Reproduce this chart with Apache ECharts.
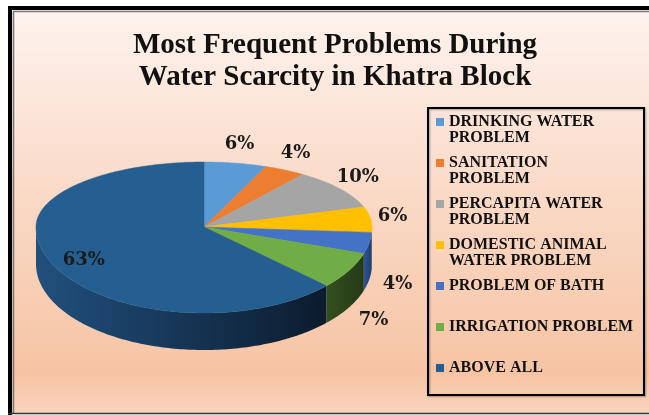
<!DOCTYPE html>
<html>
<head>
<meta charset="utf-8">
<title>Most Frequent Problems During Water Scarcity in Khatra Block</title>
<script src="https://cdn.jsdelivr.net/npm/echarts@6/dist/echarts.min.js"></script>
<style>
html, body { margin: 0; padding: 0; background: #fff; }
#chart { width: 649px; height: 415px; }
</style>
</head>
<body>
<div id="chart"></div>
<script>
// data
var categories = ['DRINKING WATER PROBLEM', 'SANITATION PROBLEM', 'PERCAPITA WATER PROBLEM',
  'DOMESTIC ANIMAL WATER PROBLEM', 'PROBLEM OF BATH', 'IRRIGATION PROBLEM', 'ABOVE ALL'];
var legendText = ['DRINKING WATER\nPROBLEM', 'SANITATION\nPROBLEM', 'PERCAPITA WATER\nPROBLEM',
  'DOMESTIC ANIMAL\nWATER PROBLEM', 'PROBLEM OF BATH', 'IRRIGATION PROBLEM', 'ABOVE ALL'];
var values = [6, 4, 10, 6, 4, 7, 63];

// styles
var colors = ['#5b9bd5', '#ed7d31', '#a5a5a5', '#ffc000', '#4472c4', '#70ad47', '#255e91'];
var sideColors = [['#3d6f9c', '#2f5a82'], ['#a8521c', '#8a4215'], ['#6e6e6e', '#5a5a5a'],
  ['#b38600', '#946f00'], ['#2f5597', '#203d6e'], ['#33501f', '#243a17'], ['#21507e', '#0c1b2d']];

var total = values.reduce(function (a, b) { return a + b; }, 0);
var starts = [];
values.reduce(function (acc, v, i) { starts[i] = acc; return acc + v; }, 0);

// 3d pie geometry (ellipse, front half a bit taller for perspective)
var cx = 204, cy = 227, rx = 168, ryTop = 65, ryFront = 86, depth = 37;

function pt(deg, off) {
  var r = deg * Math.PI / 180, c = Math.cos(r);
  return [cx + rx * Math.sin(r), cy - (c > 0 ? ryTop : ryFront) * c + (off || 0)];
}
function arc(a, b, off) {
  var p = [], n = Math.max(2, Math.ceil(Math.abs(b - a)));
  for (var k = 0; k <= n; k++) p.push(pt(a + (b - a) * k / n, off));
  return p;
}

function renderSlice(params, api) {
  var i = params.seriesIndex;
  var a0 = api.value(0) / total * 360;
  var a1 = (api.value(0) + api.value(1)) / total * 360;
  var children = [];
  // visible side wall (front half only)
  var s = Math.max(a0, 90), e = Math.min(a1, 270);
  if (e > s) {
    children.push({
      type: 'polygon', z2: 1,
      shape: { points: arc(s, e, 0).concat(arc(e, s, depth)) },
      style: { fill: new echarts.graphic.LinearGradient(0, 0, 1, 0, [
        { offset: 0, color: sideColors[i][0] }, { offset: 1, color: sideColors[i][1] }]) }
    });
  }
  // top face
  children.push({
    type: 'polygon', z2: 10,
    shape: { points: [[cx, cy]].concat(arc(a0, a1, 0)) },
    style: { fill: api.visual('color'), stroke: api.visual('color'), lineWidth: 0.5 }
  });
  // percentage label
  var m = (a0 + a1) / 2 * Math.PI / 180, sn = Math.sin(m), cs = Math.cos(m), lx, ly;
  if (api.value(1) / total > 0.5) {
    lx = cx + 0.78 * rx * sn; ly = cy - 0.97 * (cs > 0 ? ryTop : ryFront) * cs;
  } else if (cs >= 0) {
    lx = cx + 190 * sn; ly = cy - 84 * cs;
  } else {
    lx = cx + 197 * sn; ly = cy - 110 * cs + depth;
  }
  children.push({
    type: 'text', z2: 20,
    style: {
      text: Math.round(api.value(1) / total * 100) + '%', x: lx, y: ly,
      align: 'center', verticalAlign: 'middle',
      fontFamily: 'DejaVu Serif', fontWeight: 'bold', fontSize: 18, fill: '#1a1a1a'
    }
  });
  return { type: 'group', children: children };
}

var chart = echarts.init(document.getElementById('chart'));
chart.setOption({
  animation: false,
  title: {
    text: 'Most Frequent Problems During\nWater Scarcity in Khatra Block',
    left: 335, top: 30, textAlign: 'center', padding: 0,
    textStyle: { fontFamily: 'Liberation Serif', fontWeight: 'bold', fontSize: 29, lineHeight: 32, color: '#111' }
  },
  legend: {
    orient: 'vertical', left: 436, top: 98, padding: 0,
    itemWidth: 8, itemHeight: 8, itemGap: -7, icon: 'rect', selectedMode: false,
    data: categories,
    // pad every entry to three lines so the marker sits beside the first text line
    formatter: function (n) {
      var t = legendText[categories.indexOf(n)];
      return t.indexOf('\n') >= 0 ? '\n' + t : '\n' + t + '\n';
    },
    textStyle: { fontFamily: 'Liberation Serif', fontWeight: 'bold', fontSize: 16, lineHeight: 16, color: '#111' }
  },
  graphic: [
    { type: 'rect', silent: true, shape: { x: 12, y: 10, width: 650, height: 404 },
      style: { fill: new echarts.graphic.LinearGradient(0, 0, 0, 1, [
        { offset: 0, color: '#fdf3ee' }, { offset: 0.45, color: '#fadac7' },
        { offset: 0.9, color: '#f6c4a4' }, { offset: 1, color: '#f9d4bd' }]) } },
    { type: 'line', silent: true, shape: { x1: 10, y1: 6, x2: 10, y2: 415 }, style: { stroke: '#000', lineWidth: 4 } },
    { type: 'line', silent: true, shape: { x1: 8, y1: 8, x2: 649, y2: 8 }, style: { stroke: '#000', lineWidth: 4 } },
    { type: 'line', silent: true, shape: { x1: 13.5, y1: 11, x2: 13.5, y2: 413 }, style: { stroke: '#777', lineWidth: 1.5 } },
    { type: 'line', silent: true, shape: { x1: 13, y1: 11.5, x2: 649, y2: 11.5 }, style: { stroke: '#777', lineWidth: 1.5 } },
    { type: 'line', silent: true, shape: { x1: 8, y1: 413.5, x2: 649, y2: 413.5 }, style: { stroke: '#333', lineWidth: 1.5 } },
    { type: 'rect', silent: true, shape: { x: 428, y: 108, width: 216, height: 287 },
      style: { fill: 'none', stroke: '#000', lineWidth: 2, shadowColor: 'rgba(0,0,0,0.35)', shadowBlur: 2, shadowOffsetX: 1, shadowOffsetY: 1 } }
  ],
  series: categories.map(function (name, i) {
    return {
      type: 'custom', name: name, coordinateSystem: 'none', silent: true,
      itemStyle: { color: colors[i] },
      renderItem: renderSlice,
      data: [[starts[i], values[i]]]
    };
  })
});
</script>
</body>
</html>
